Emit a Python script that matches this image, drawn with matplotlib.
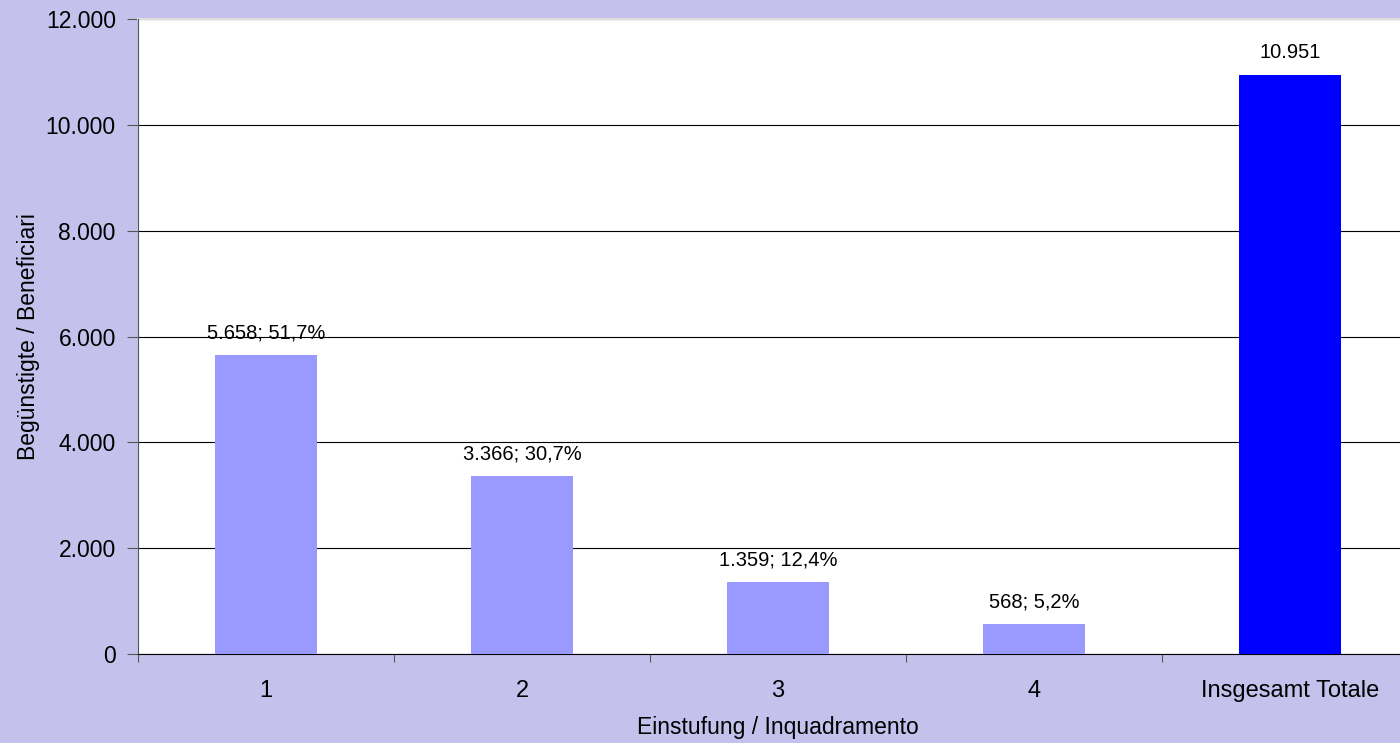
import matplotlib.pyplot as plt
from matplotlib.ticker import FuncFormatter

plt.rcParams['font.family'] = ['Liberation Sans', 'DejaVu Sans']

categories = ['1', '2', '3', '4', 'Insgesamt Totale']
values = [5658, 3366, 1359, 568, 10951]
labels = ['5.658; 51,7%', '3.366; 30,7%', '1.359; 12,4%', '568; 5,2%', '10.951']
colors = ['#9999FF', '#9999FF', '#9999FF', '#9999FF', '#0000FF']

bg = '#C4C2EC'

fig = plt.figure(figsize=(14, 7.43), dpi=100, facecolor=bg)
ax = fig.add_axes([138 / 1400, 1 - 654 / 743, 1280 / 1400, 635 / 743])
ax.set_facecolor('white')

x = range(len(categories))
ax.bar(x, values, width=0.4, color=colors, zorder=3)

for xi, v, lab in zip(x, values, labels):
    ax.text(xi, v + 230, lab, ha='center', va='bottom', fontsize=14.5, color='black', zorder=4)

ax.set_xlim(-0.5, len(categories) - 0.5)
ax.set_ylim(0, 12000)
ax.set_yticks(range(0, 12001, 2000))
ax.yaxis.set_major_formatter(FuncFormatter(lambda v, p: f'{int(v):,}'.replace(',', '.')))
ax.yaxis.grid(True, color='black', linewidth=0.8, zorder=1)

# category boundaries carry the tick marks, names sit between them
ax.set_xticks([i - 0.5 for i in range(len(categories) + 1)])
ax.set_xticklabels([])
ax.set_xticks(list(x), minor=True)
ax.set_xticklabels(categories, minor=True)
ax.tick_params(axis='x', which='minor', length=0, pad=19, labelsize=17)
ax.tick_params(axis='x', which='major', length=6, color='#555555', direction='out')
ax.tick_params(axis='y', length=8, color='#555555', labelsize=16.5, pad=8)

for side in ['top', 'right']:
    ax.spines[side].set_visible(False)
ax.spines['left'].set_color('#555555')
ax.spines['bottom'].set_color('black')
ax.plot([-0.5, 4.5], [12000, 12000], color='#DDDDDD', linewidth=1.5, clip_on=False, zorder=2)

ax.set_xlabel('Einstufung / Inquadramento', fontsize=16.5, labelpad=10)
ax.set_ylabel('Begünstigte / Beneficiari', fontsize=16.5, labelpad=4)

fig.savefig('out.png', dpi=100, facecolor=bg)
